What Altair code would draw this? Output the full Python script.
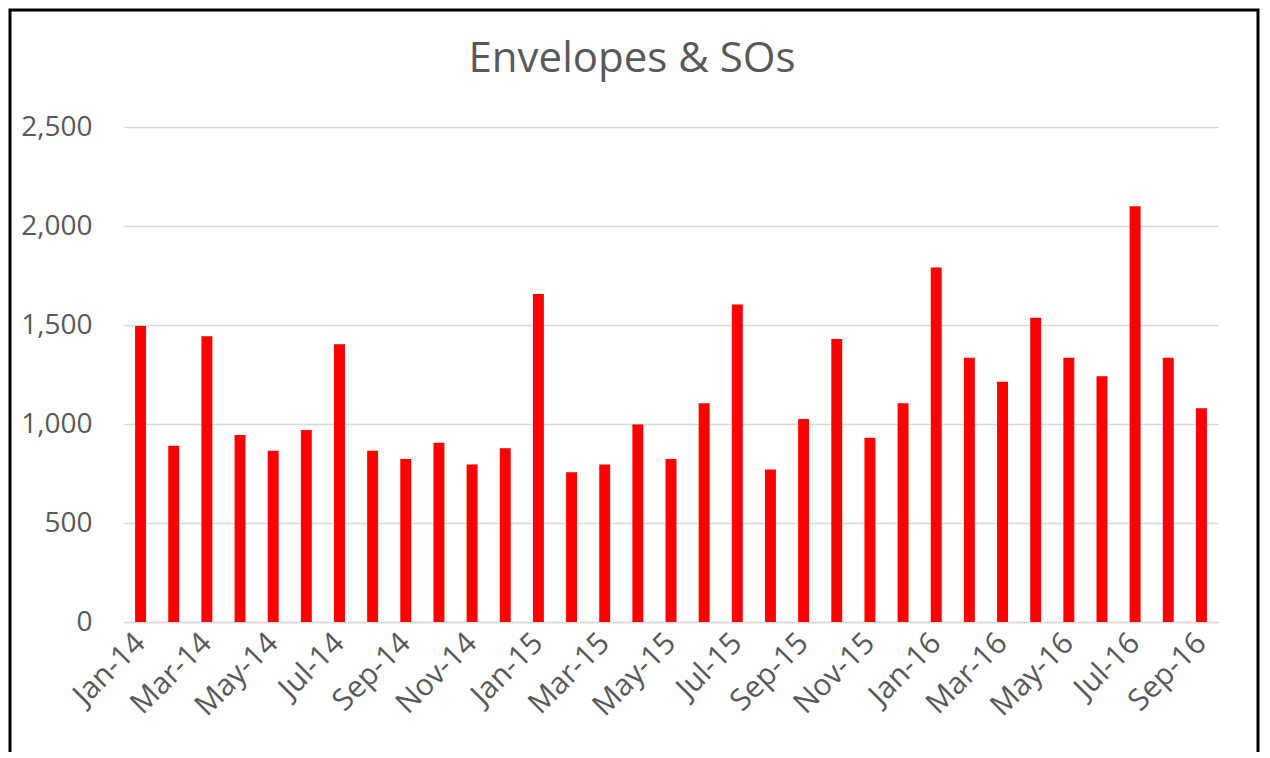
import altair as alt
import pandas as pd

months = ["Jan-14", "Feb-14", "Mar-14", "Apr-14", "May-14", "Jun-14", "Jul-14", "Aug-14",
          "Sep-14", "Oct-14", "Nov-14", "Dec-14", "Jan-15", "Feb-15", "Mar-15", "Apr-15",
          "May-15", "Jun-15", "Jul-15", "Aug-15", "Sep-15", "Oct-15", "Nov-15", "Dec-15",
          "Jan-16", "Feb-16", "Mar-16", "Apr-16", "May-16", "Jun-16", "Jul-16", "Aug-16",
          "Sep-16"]
values = [1495, 890, 1443, 945, 865, 970, 1403, 865,
          823, 905, 796, 877, 1657, 756, 796, 998,
          823, 1105, 1603, 770, 1025, 1429, 930, 1105,
          1791, 1335, 1213, 1537, 1335, 1241, 2100, 1335,
          1079]
y_ticks = [0, 500, 1000, 1500, 2000, 2500]
title_text = "Envelopes & SOs"

df = pd.DataFrame({"month": months, "value": values})
frame_df = pd.DataFrame({"k": [0]})

FONT = "Open Sans"
TXT = "#595959"
GRID = "#d9d9d9"

bars = alt.Chart(df).mark_bar(color="#FF0000").encode(
    x=alt.X("month:N", sort=months,
            scale=alt.Scale(paddingInner=0.67, paddingOuter=0.335),
            axis=alt.Axis(title=None, values=months[::2], labelAngle=-45,
                          labelAlign="right", labelBaseline="middle",
                          labelPadding=16, ticks=False, domainColor=GRID,
                          domainWidth=1.5, labelFont=FONT, labelFontSize=30,
                          labelColor=TXT, grid=False)),
    y=alt.Y("value:Q", scale=alt.Scale(domain=[0, 2500], nice=False),
            axis=alt.Axis(title=None, values=y_ticks, format=",.0f", ticks=False,
                          domain=False, labelPadding=32, labelFont=FONT,
                          labelFontSize=28, labelColor=TXT, gridColor=GRID,
                          gridWidth=1.5)),
)

frame = alt.Chart(frame_df).mark_rect(fillOpacity=0, stroke="black", strokeWidth=3).encode(
    x=alt.value(-114), x2=alt.value(1134), y=alt.value(-117), y2=alt.value(700)
)

chart = alt.layer(bars, frame).properties(
    width=1094, height=495,
    title=alt.TitleParams(title_text, font=FONT, fontSize=42, fontWeight="normal",
                          color=TXT, anchor="middle", baseline="alphabetic",
                          offset=-105, dx=-39),
    autosize=alt.AutoSizeParams(type="none"),
    padding={"left": 116, "top": 119, "right": 44, "bottom": 130},
).configure(background="white", view=alt.ViewConfig(stroke="transparent", strokeWidth=0))

chart.save("out.html", embed_options={"renderer": "svg", "actions": False})
